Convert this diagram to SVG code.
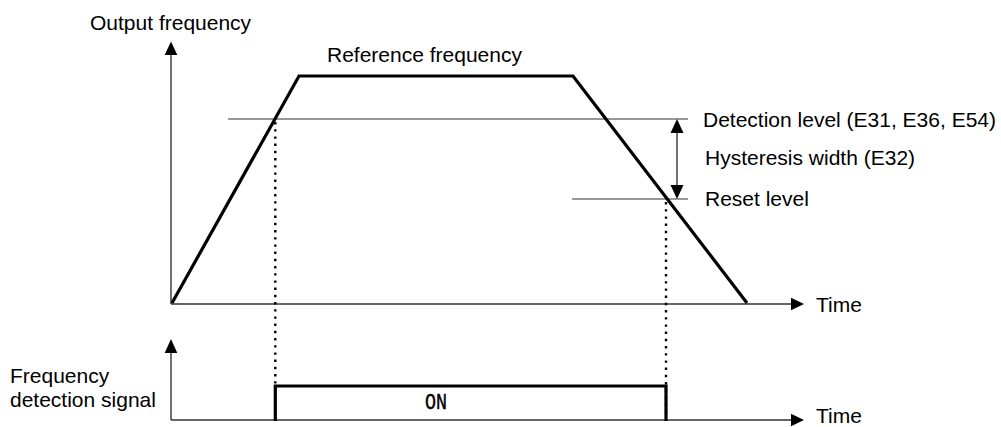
<svg xmlns="http://www.w3.org/2000/svg" width="1001" height="427" viewBox="0 0 1001 427">
<defs>
<style>
text{font-family:"Liberation Sans",Arial,sans-serif;font-size:21px;fill:#000}
.axis{stroke:#333;stroke-width:1.4;fill:none}
.thick{stroke:#000;stroke-width:3.2;fill:none;stroke-linejoin:miter}
.level{stroke:#333;stroke-width:1.2;fill:none}
.dot{stroke:#000;stroke-width:2.4;stroke-dasharray:2.4 4.8;fill:none}
.head{fill:#000}
.mono{font-family:"Liberation Mono","DejaVu Sans Mono",monospace;font-size:22px}
</style>
</defs>
<g id="connectors">
<line class="axis" x1="171" y1="304" x2="171" y2="54"/>
<polygon class="head" points="171,41.5 164.7,55 177.3,55"/>
<line class="axis" x1="171" y1="304" x2="792" y2="304"/>
<polygon class="head" points="804,304 791,297.7 791,310.3"/>
<line class="axis" x1="171" y1="420" x2="792" y2="420"/>
<polygon class="head" points="804,420 791,413.7 791,426.3"/>
<line class="axis" x1="171" y1="420" x2="171" y2="352"/>
<polygon class="head" points="171,339 164.7,353 177.3,353"/>
<line class="level" x1="228" y1="119" x2="688" y2="119"/>
<line class="level" x1="572" y1="199" x2="688" y2="199"/>
<line class="axis" x1="677" y1="130" x2="677" y2="188"/>
<polygon class="head" points="677,119 670.5,133 683.5,133"/>
<polygon class="head" points="677,199 670.5,185 683.5,185"/>
<line class="dot" x1="275.3" y1="122" x2="275.3" y2="418"/>
<line class="dot" x1="666" y1="202" x2="666" y2="418"/>
</g>
<g id="frequency-curve">
<polyline class="thick" points="172,303 299,76 573,76 747,303"/>
</g>
<g id="signal-pulse">
<polyline class="thick" points="275.3,421 275.3,386 666,386 666,421"/>
<text class="mono" x="425" y="409" textLength="22" lengthAdjust="spacingAndGlyphs" stroke="#000" stroke-width="0.4">ON</text>
</g>
<g id="labels">
<text x="90" y="30">Output frequency</text>
<text x="327" y="62">Reference frequency</text>
<text x="703" y="127">Detection level (E31, E36, E54)</text>
<text x="705" y="165">Hysteresis width (E32)</text>
<text x="705" y="206">Reset level</text>
<text x="816" y="312">Time</text>
<text x="816" y="423">Time</text>
<text x="10" y="383">Frequency</text>
<text x="10" y="407">detection signal</text>
</g>
</svg>
